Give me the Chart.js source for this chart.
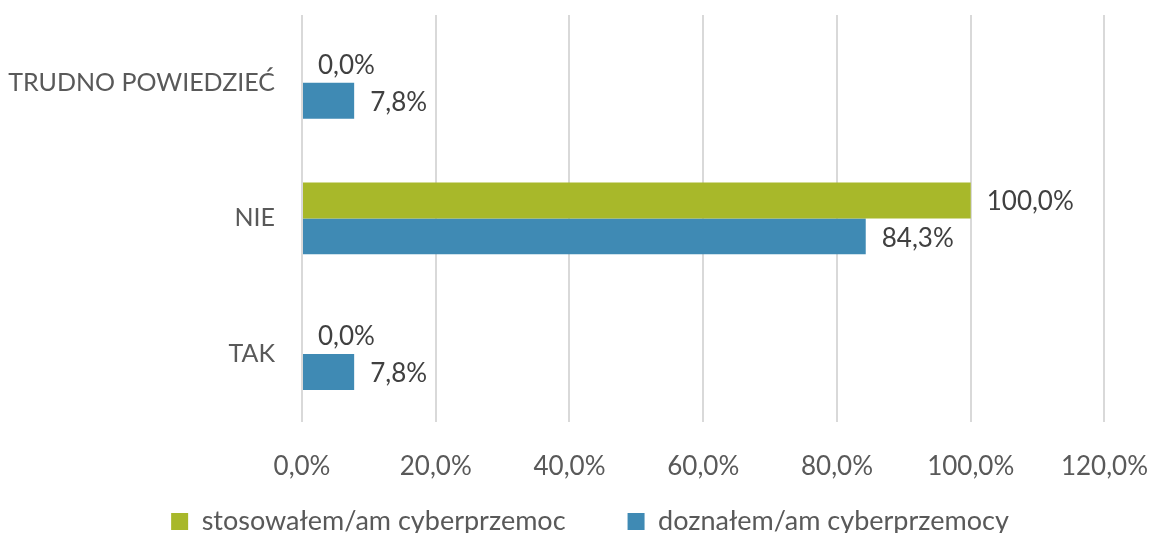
<!DOCTYPE html>
<html>
<head>
<meta charset="utf-8">
<script src="https://cdn.jsdelivr.net/npm/chart.js@4/dist/chart.umd.min.js"></script>
<style>
html,body{margin:0;padding:0;background:#fff;}
#wrap{width:1150px;height:533px;position:relative;}
</style>
</head>
<body>
<div id="wrap"><canvas id="c" width="1150" height="533"></canvas></div>
<script>
const categories = ["TRUDNO POWIEDZIEĆ", "NIE", "TAK"];
const seriesNames = ["stosowałem/am cyberprzemoc", "doznałem/am cyberprzemocy"];
const stosowalem = [0.0, 100.0, 0.0];
const doznalem = [7.8, 84.3, 7.8];
const xTicks = [0, 20, 40, 60, 80, 100, 120];

const FONT = "Lato, 'Open Sans', sans-serif";
const fmt = v => v.toFixed(1).replace('.', ',') + '%';

const labelPlugin = {
  id: 'barLabels',
  afterDatasetsDraw(chart) {
    const ctx = chart.ctx;
    ctx.save();
    ctx.font = "26px " + FONT;
    ctx.fillStyle = '#404040';
    ctx.textAlign = 'left';
    ctx.textBaseline = 'middle';
    chart.data.datasets.forEach((ds, i) => {
      const meta = chart.getDatasetMeta(i);
      meta.data.forEach((el, j) => {
        ctx.fillText(fmt(ds.data[j]), el.x + 16, el.y + (i === 0 ? 1 : 2));
      });
    });
    ctx.restore();
  }
};

const legendShift = {
  id: 'legendShift',
  beforeLayout(chart) {
    const lg = chart.legend;
    if (lg && !lg._shiftPatched) {
      const orig = lg._draw;
      lg._draw = function () {
        const t = this.top, l = this.left, r = this.right;
        this.top = t - 38;
        this.left = l + 15;
        this.right = r + 15;
        orig.call(this);
        this.top = t;
        this.left = l;
        this.right = r;
      };
      lg._shiftPatched = true;
    }
  }
};

new Chart(document.getElementById('c'), {
  type: 'bar',
  data: {
    labels: categories,
    datasets: [
      { label: seriesNames[0], data: stosowalem, backgroundColor: '#a8b82a', categoryPercentage: 0.53, barPercentage: 1 },
      { label: seriesNames[1], data: doznalem, backgroundColor: '#3f8ab4', categoryPercentage: 0.53, barPercentage: 1 }
    ]
  },
  options: {
    indexAxis: 'y',
    responsive: false,
    animation: false,
    devicePixelRatio: 1,
    layout: { padding: { left: 0, right: 0, top: 15, bottom: 0 } },
    scales: {
      x: {
        min: 0, max: 120,
        afterBuildTicks: axis => { axis.ticks = xTicks.map(v => ({ value: v })); },
        ticks: { callback: v => fmt(v), font: { family: FONT, size: 26 }, color: '#595959', padding: 2 },
        grid: { color: '#d9d9d9', lineWidth: 2, drawTicks: true, tickLength: 27, tickColor: 'rgba(0,0,0,0)' },
        border: { display: false }
      },
      y: {
        afterFit: axis => { axis.width = 302; },
        ticks: { font: { family: FONT, size: 25 }, color: '#595959', padding: 0 },
        grid: { display: true, color: 'rgba(0,0,0,0)', drawTicks: true, tickLength: 27, tickColor: 'rgba(0,0,0,0)' },
        border: { display: false }
      }
    },
    plugins: {
      legend: {
        position: 'bottom',
        maxHeight: 49,
        labels: { font: { family: FONT, size: 27 }, color: '#595959', boxWidth: 17, boxHeight: 17, padding: 62 }
      },
      tooltip: { enabled: false }
    }
  },
  plugins: [labelPlugin, legendShift]
});
</script>
</body>
</html>
